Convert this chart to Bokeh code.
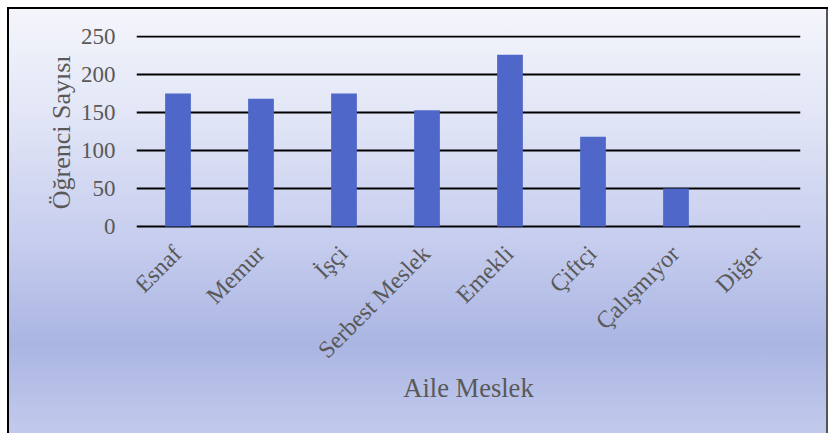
import math
from bokeh.plotting import figure
from bokeh.models import Range1d, FixedTicker, ColumnDataSource, Title
from bokeh.embed import file_html
from bokeh.resources import INLINE

categories = ["Esnaf", "Memur", "İşçi", "Serbest Meslek", "Emekli", "Çiftçi", "Çalışmıyor", "Diğer"]
counts = [175, 168, 175, 153, 226, 118, 50, 0]
y_ticks = [0, 50, 100, 150, 200, 250]

FONT = "Liberation Serif"
GRAY = "#595959"

source = ColumnDataSource(data=dict(cat=categories, count=counts))

# the frame reaches below 0 so that the slanted category names can be drawn inside it
p = figure(
    x_range=categories,
    y_range=Range1d(-180.2, 251.3),
    width=821, height=426,
    output_backend="svg", toolbar_location=None,
    min_border_left=129, min_border_right=28,
    min_border_top=28, min_border_bottom=70,
    styles={
        "margin": "7px 0 0 7px",
        "background": "linear-gradient(to bottom, #F5F6FC 0%, #E2E6F6 25%, #C6CDEE 55%, #AAB5E2 79%, #C2CAEC 100%)",
        "box-shadow": "inset 2px 2px 0 #000000, inset -2px 0 0 #555555",
    },
)
p.background_fill_color = None
p.border_fill_color = None
p.outline_line_color = None
p.x_range.range_padding = 0

p.vbar(x="cat", top="count", source=source, width=0.31, fill_color="#4E67C8", line_color=None)

p.text(
    x="cat", y=0, text="cat", source=source,
    angle=math.pi / 4, text_align="right", text_baseline="top",
    x_offset=-10, y_offset=14,
    text_font={"value": FONT}, text_font_size="24px", text_color=GRAY,
)

p.xgrid.grid_line_color = None
p.ygrid.grid_line_color = "#000000"
p.ygrid.grid_line_width = 2
p.ygrid.ticker = FixedTicker(ticks=y_ticks)
p.yaxis.ticker = FixedTicker(ticks=y_ticks)

p.xaxis.visible = False

ax = p.yaxis[0]
ax.axis_line_color = None
ax.major_tick_line_color = None
ax.minor_tick_line_color = None
ax.major_label_text_font = FONT
ax.major_label_text_color = GRAY
ax.major_label_text_font_size = "23px"
ax.major_label_standoff = 15

ytitle = Title(
    text="Öğrenci Sayısı", align="right", offset=20, standoff=3,
    text_font=FONT, text_font_size="26px", text_font_style="normal",
    text_color=GRAY,
)
p.add_layout(ytitle, "left")

xtitle = Title(
    text="Aile Meslek", align="center", standoff=15,
    text_font=FONT, text_font_size="26.5px", text_font_style="normal",
    text_color=GRAY,
)
p.add_layout(xtitle, "below")

open("out.html", "w").write(file_html(p, INLINE))
